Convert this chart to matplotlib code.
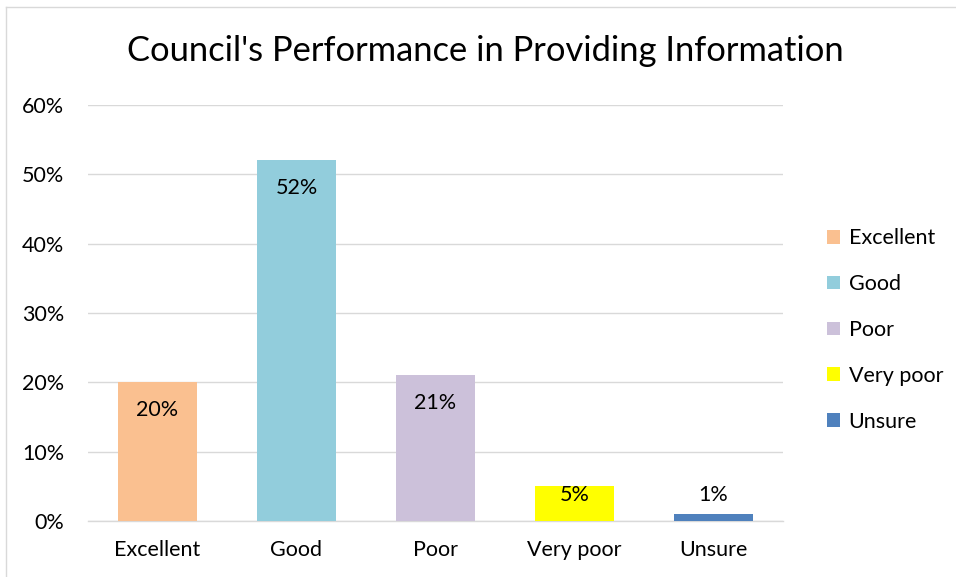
import matplotlib.pyplot as plt
from matplotlib.lines import Line2D
from matplotlib.patches import Patch
from matplotlib.ticker import PercentFormatter

categories = ['Excellent', 'Good', 'Poor', 'Very poor', 'Unsure']
values = [20, 52, 21, 5, 1]
colors = ['#FAC090', '#92CDDC', '#CCC1DA', '#FFFF00', '#4F81BD']
title = "Council's Performance in Providing Information"

plt.rcParams['font.family'] = ['Lato', 'DejaVu Sans']
fs = 15.5

fig = plt.figure(figsize=(9.56, 5.77), dpi=100)
ax = fig.add_axes([0.092, 0.097, 0.727, 0.721])

x = range(len(categories))
ax.bar(x, values, width=0.57, color=colors, zorder=3)

# data labels, Excel "inside end" style, kept above the axis for short bars
for i, v in enumerate(values):
    ly = max(v - 4.0, 3.75)
    ax.text(i, ly, f'{v}%', ha='center', va='center', fontsize=fs, color='#000000', zorder=4)

ax.set_xlim(-0.5, len(categories) - 0.5)
ax.set_ylim(0, 60)
ax.set_yticks(range(0, 61, 10))
ax.yaxis.set_major_formatter(PercentFormatter(decimals=0))
ax.set_xticks(list(x))
ax.set_xticklabels(categories)
ax.tick_params(axis='both', length=0, labelsize=fs, colors='#000000')
ax.tick_params(axis='x', pad=14)
ax.tick_params(axis='y', pad=17)
ax.grid(axis='y', color='#D9D9D9', linewidth=1, zorder=0)
for s in ['top', 'right', 'left']:
    ax.spines[s].set_visible(False)
ax.spines['bottom'].set_color('#D9D9D9')
ax.spines['bottom'].set_linewidth(1)

fig.text(0.508, 0.912, title, ha='center', va='center', fontsize=24.8)

handles = [Patch(facecolor=c, label=n) for c, n in zip(colors, categories)]
fig.legend(handles=handles, loc='center left', bbox_to_anchor=(0.845, 0.428),
           frameon=False, fontsize=fs, handlelength=0.6, handleheight=0.6,
           handletextpad=0.4, labelspacing=1.2)

# chart-area border, only top and left edges show (screenshot is cropped)
fig.lines.append(Line2D([0.006, 1.0], [0.988, 0.988], transform=fig.transFigure,
                        color='#D9D9D9', linewidth=1))
fig.lines.append(Line2D([0.006, 0.006], [0.0, 0.988], transform=fig.transFigure,
                        color='#D9D9D9', linewidth=1))

fig.savefig('out.png', dpi=100)
